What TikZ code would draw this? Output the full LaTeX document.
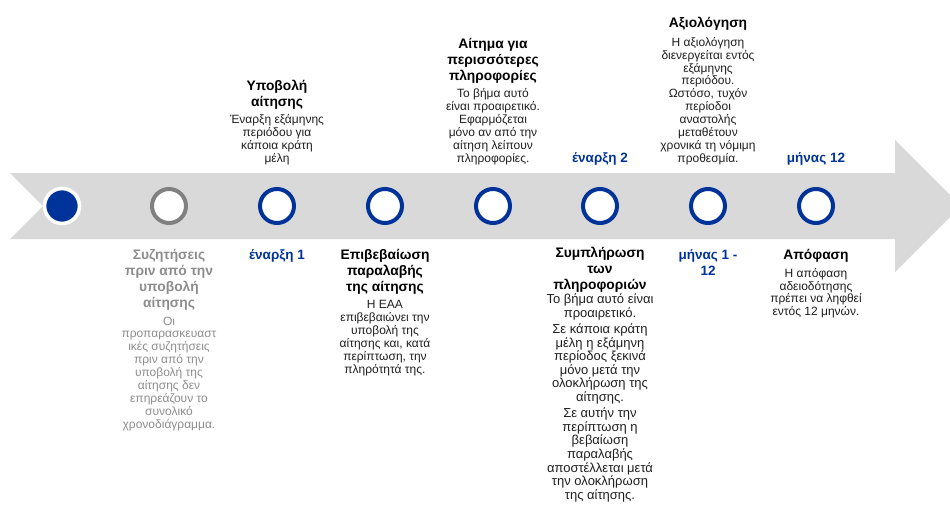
\documentclass[tikz,border=0pt]{standalone}
\usepackage{fontspec}
\setmainfont{Liberation Sans}
\usetikzlibrary{positioning}

\definecolor{eublue}{RGB}{0,51,153}
\definecolor{bandgray}{RGB}{217,217,217}
\definecolor{ringgray}{RGB}{128,128,128}
\definecolor{softgray}{RGB}{140,140,140}
\definecolor{notetext}{RGB}{30,30,30}

\begin{document}
\begin{tikzpicture}[x=1pt, y=-1pt,
    milestone/.style={circle, draw=eublue, line width=4pt, fill=white, minimum size=34pt, inner sep=0pt},
    headline/.style={font=\fontsize{13.8}{16}\selectfont\bfseries, align=center, inner sep=0pt},
    note/.style={font=\fontsize{12}{12.9}\selectfont, align=center, inner sep=0pt, text=notetext},
    when/.style={headline, font=\fontsize{13.5}{16}\selectfont\bfseries, text=eublue}]
    \useasboundingbox (0,0) rectangle (950,512);
    \clip (0,0) rectangle (950,512);

    % timeline band
    \fill[bandgray] (10,173) -- (895,173) -- (895,140) -- (961,206) -- (895,272)
        -- (895,239) -- (10,239) -- (43,206) -- cycle;

    % milestones
    \node[circle, fill=eublue, draw=white, line width=3.6pt, minimum size=35pt, inner sep=0pt] (m1) at (62,206) {};
    \node[milestone, draw=ringgray] (m2) at (169,206) {};
    \node[milestone] (m3) at (277,206) {};
    \node[milestone] (m4) at (385,206) {};
    \node[milestone] (m5) at (493,206) {};
    \node[milestone] (m6) at (600,206) {};
    \node[milestone] (m7) at (708,206) {};
    \node[milestone] (m8) at (816,206) {};

    % above the band
    \node[note, anchor=south] (submitnote) at (277,165) {Έναρξη εξάμηνης\\περιόδου για\\κάποια κράτη\\μέλη};
    \node[headline, above=5pt of submitnote] (submit) {Υποβολή\\αίτησης};

    \node[note, anchor=south] (requestnote) at (493,165) {Το βήμα αυτό\\είναι προαιρετικό.\\Εφαρμόζεται\\μόνο αν από την\\αίτηση λείπουν\\πληροφορίες.};
    \node[headline, above=5pt of requestnote] (request) {Αίτημα για\\περισσότερες\\πληροφορίες};

    \node[when, anchor=south] (start2) at (600,165) {έναρξη 2};

    \node[note, anchor=south] (assessnote) at (708,165) {Η αξιολόγηση\\διενεργείται εντός\\εξάμηνης\\περιόδου.\\Ωστόσο, τυχόν\\περίοδοι\\αναστολής\\μεταθέτουν\\χρονικά τη νόμιμη\\προθεσμία.};
    \node[headline, above=6pt of assessnote] (assess) {Αξιολόγηση};

    \node[when, anchor=south] (month12) at (816,165) {μήνας 12};

    % below the band
    \node[headline, text=softgray, anchor=north] (talks) at (169,249.5) {Συζητήσεις\\πριν από την\\υποβολή\\αίτησης};
    \node[note, text=softgray, below=5.5pt of talks] (talksnote) {Οι\\προπαρασκευαστ\\ικές συζητήσεις\\πριν από την\\υποβολή της\\αίτησης δεν\\επηρεάζουν το\\συνολικό\\χρονοδιάγραμμα.};

    \node[when, anchor=north] (start1) at (277,249.5) {έναρξη 1};

    \node[headline, anchor=north] (receipt) at (385,249.5) {Επιβεβαίωση\\παραλαβής\\της αίτησης};
    \node[note, below=5.5pt of receipt] (receiptnote) {Η ΕΑΑ\\επιβεβαιώνει την\\υποβολή της\\αίτησης και, κατά\\περίπτωση, την\\πληρότητά της.};

    \node[headline, anchor=north] (complete) at (600,246.5) {Συμπλήρωση\\των\\πληροφοριών};
    \node[note, font=\fontsize{13}{13.6}\selectfont, below=1.5pt of complete] (completenote) {Το βήμα αυτό είναι\\προαιρετικό.\\[2.6pt]Σε κάποια κράτη\\μέλη η εξάμηνη\\περίοδος ξεκινά\\μόνο μετά την\\ολοκλήρωση της\\αίτησης.\\[2.6pt]Σε αυτήν την\\περίπτωση η\\βεβαίωση\\παραλαβής\\αποστέλλεται μετά\\την ολοκλήρωση\\της αίτησης.};

    \node[when, anchor=north] (month1) at (708,249.5) {μήνας 1 -\\12};

    \node[headline, anchor=north] (decision) at (816,249.5) {Απόφαση};
    \node[note, below=5pt of decision] (decisionnote) {Η απόφαση\\αδειοδότησης\\πρέπει να ληφθεί\\εντός 12 μηνών.};
\end{tikzpicture}
\end{document}
